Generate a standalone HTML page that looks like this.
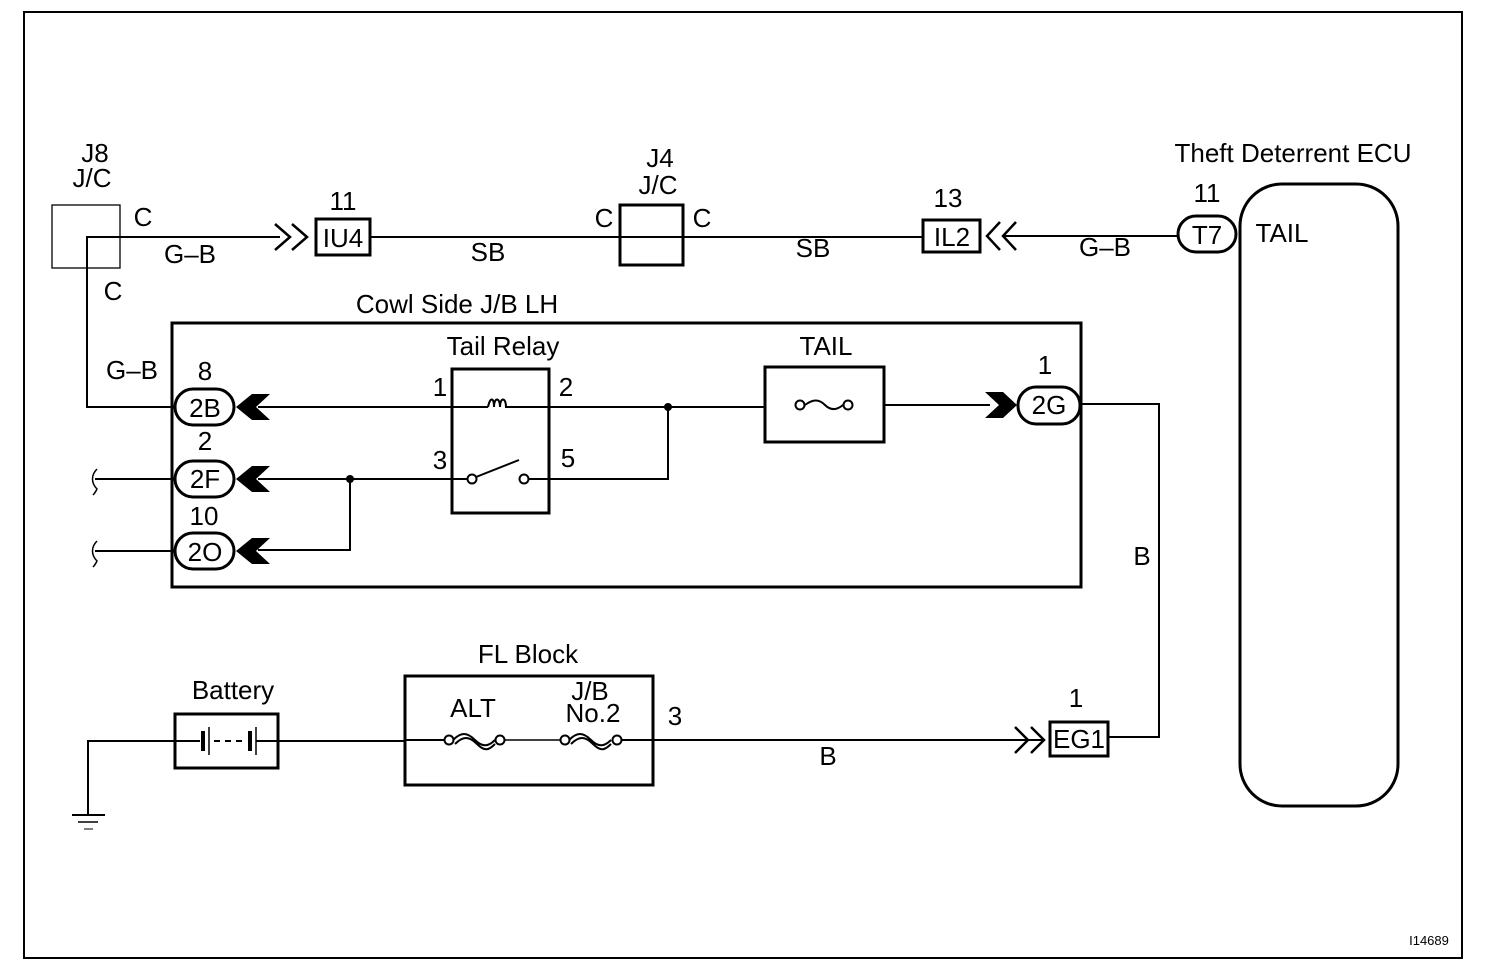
<!DOCTYPE html>
<html><head><meta charset="utf-8"><style>
html,body{margin:0;padding:0;background:#fff}
svg{display:block}
text{font-family:"Liberation Sans",Arial,sans-serif;fill:#000;font-size:26px}
</style></head><body>
<svg width="1504" height="974" viewBox="0 0 1504 974" xmlns="http://www.w3.org/2000/svg">
<g fill="none" stroke="#000" stroke-width="2">
<rect x="24" y="12" width="1438" height="946" stroke-width="2"/>
<rect x="52" y="205" width="68" height="63" stroke-width="1.3"/>
<polyline points="280,237 87,237 87,407 175,407"/>
<polyline points="275,224 290,237 275,250" stroke-width="2.5"/>
<polyline points="292,224 307,237 292,250" stroke-width="2.5"/>
<rect x="316" y="219" width="54" height="36" stroke-width="3"/>
<line x1="370" y1="237" x2="923" y2="237"/>
<rect x="620" y="205" width="63" height="60" stroke-width="3"/>
<rect x="923" y="220" width="57" height="32" stroke-width="3"/>
<polyline points="1000,222 987,236 1000,250" stroke-width="2.5"/>
<polyline points="1016,222 1003,236 1016,250" stroke-width="2.5"/>
<line x1="1003" y1="236" x2="1178" y2="236"/>
<rect x="1178" y="216" width="58" height="36" rx="18" stroke-width="3"/>
<rect x="1240" y="184" width="158" height="622" rx="42" stroke-width="3"/>
<rect x="172" y="323" width="909" height="264" stroke-width="3"/>
<rect x="175" y="389" width="59" height="36" rx="18" stroke-width="3"/>
<rect x="175" y="461" width="59" height="36" rx="18" stroke-width="3"/>
<rect x="175" y="533" width="59" height="36" rx="18" stroke-width="3"/>
<rect x="452" y="369" width="97" height="144" stroke-width="3"/>
<line x1="258" y1="407" x2="488" y2="407"/>
<path d="M488,407 c2,-10 6,-10 6,0 c0,-10 6,-10 6,0 c0,-10 6,-10 6,0 l4,0" />
<line x1="510" y1="407" x2="765" y2="407"/>
<rect x="765" y="367" width="119" height="75" stroke-width="3"/>
<circle cx="800" cy="405" r="4.5"/><circle cx="848" cy="405" r="4.5"/>
<path d="M805,405 c8,-6 14,-6 20,0 s12,5 18,0"/>
<line x1="884" y1="405" x2="990" y2="405"/>
<rect x="1018" y="387" width="62" height="37" rx="18" stroke-width="3"/>
<polyline points="1080,404 1159,404 1159,737 1108,737"/>
<line x1="95" y1="479" x2="175" y2="479"/>
<path d="M97,469 c-6,6 -6,14 0,20 c-2,4 -4,6 -4,6" stroke-width="1.5"/>
<line x1="95" y1="551" x2="175" y2="551"/>
<path d="M97,541 c-6,6 -6,14 0,20 c-2,4 -4,6 -4,6" stroke-width="1.5"/>
<line x1="258" y1="479" x2="468" y2="479"/>
<circle cx="472" cy="479" r="4.5"/><circle cx="524" cy="479" r="4.5"/>
<line x1="476" y1="477" x2="519" y2="460"/>
<polyline points="529,479 668,479 668,407"/>
<polyline points="350,479 350,550 258,550"/>
<polyline points="88,815 88,741 175,741"/>
<line x1="72" y1="815" x2="105" y2="815"/>
<line x1="78" y1="822" x2="98" y2="822" stroke-width="1.5"/>
<line x1="84" y1="829" x2="93" y2="829" stroke-width="1"/>
<rect x="175" y="714" width="103" height="54" stroke-width="3"/>
<line x1="175" y1="741" x2="200" y2="741"/>
<line x1="203" y1="731" x2="203" y2="751" stroke-width="4"/>
<line x1="209" y1="727" x2="209" y2="755" stroke-width="1.5"/>
<line x1="214" y1="741" x2="246" y2="741" stroke-dasharray="6,5"/>
<line x1="250" y1="731" x2="250" y2="751" stroke-width="4"/>
<line x1="256" y1="727" x2="256" y2="755" stroke-width="1.5"/>
<line x1="256" y1="741" x2="405" y2="741"/>
<rect x="405" y="676" width="248" height="109" stroke-width="3"/>
<line x1="405" y1="740" x2="445" y2="740"/>
<circle cx="449" cy="740" r="4.5"/><circle cx="500" cy="740" r="4.5"/>
<path d="M453,740 c8,-8 14,-8 22,0 s14,6 20,0 M455,744 c8,-8 14,-8 22,0 s12,6 18,0"/>
<line x1="504" y1="740" x2="561" y2="740" stroke-width="1.5"/>
<circle cx="565" cy="740" r="4.5"/><circle cx="617" cy="740" r="4.5"/>
<path d="M569,740 c8,-8 14,-8 22,0 s14,6 20,0 M571,744 c8,-8 14,-8 22,0 s12,6 18,0"/>
<line x1="621" y1="740" x2="1045" y2="740"/>
<polyline points="1015,727 1028,740 1015,753" stroke-width="2.5"/>
<polyline points="1031,727 1044,740 1031,753" stroke-width="2.5"/>
<rect x="1050" y="722" width="58" height="34" stroke-width="3"/>
</g>
<g fill="#000">
<polygon points="270,394 252,394 236,407 252,420 270,420 256,407"/>
<polygon points="270,466 252,466 236,479 252,492 270,492 256,479"/>
<polygon points="270,538 252,538 236,551 252,564 270,564 256,551"/>
<polygon points="985,392 1003,392 1017,405 1003,418 985,418 999,405"/>
<circle cx="668" cy="407" r="4"/><circle cx="350" cy="479" r="4"/>
</g>
<g text-anchor="middle">
<text x="95" y="162">J8</text><text x="92" y="187">J/C</text>
<text x="143" y="226">C</text><text x="190" y="263">G–B</text>
<text x="113" y="300">C</text><text x="132" y="379">G–B</text>
<text x="343" y="210">11</text><text x="343" y="247">IU4</text>
<text x="488" y="261">SB</text>
<text x="660" y="167">J4</text><text x="658" y="194">J/C</text>
<text x="604" y="227">C</text><text x="702" y="227">C</text>
<text x="813" y="257">SB</text>
<text x="948" y="207">13</text><text x="952" y="246">IL2</text>
<text x="1105" y="256">G–B</text>
<text x="1207" y="202">11</text><text x="1207" y="244">T7</text>
<text x="1293" y="162">Theft Deterrent ECU</text>
<text x="1282" y="242">TAIL</text>
<text x="457" y="313">Cowl Side J/B LH</text>
<text x="503" y="355">Tail Relay</text>
<text x="826" y="355">TAIL</text>
<text x="205" y="380">8</text><text x="205" y="417">2B</text>
<text x="205" y="450">2</text><text x="205" y="488">2F</text>
<text x="204" y="525">10</text><text x="205" y="561">2O</text>
<text x="440" y="396">1</text><text x="566" y="396">2</text>
<text x="440" y="469">3</text><text x="568" y="467">5</text>
<text x="1045" y="374">1</text><text x="1049" y="414">2G</text>
<text x="1142" y="565">B</text>
<text x="528" y="663">FL Block</text>
<text x="233" y="699">Battery</text>
<text x="473" y="717">ALT</text>
<text x="590" y="700">J/B</text><text x="593" y="722">No.2</text>
<text x="675" y="725">3</text>
<text x="828" y="765">B</text>
<text x="1076" y="707">1</text><text x="1079" y="748">EG1</text>
<text x="1429" y="945" style="font-size:13px">I14689</text>
</g>
</svg>
</body></html>
